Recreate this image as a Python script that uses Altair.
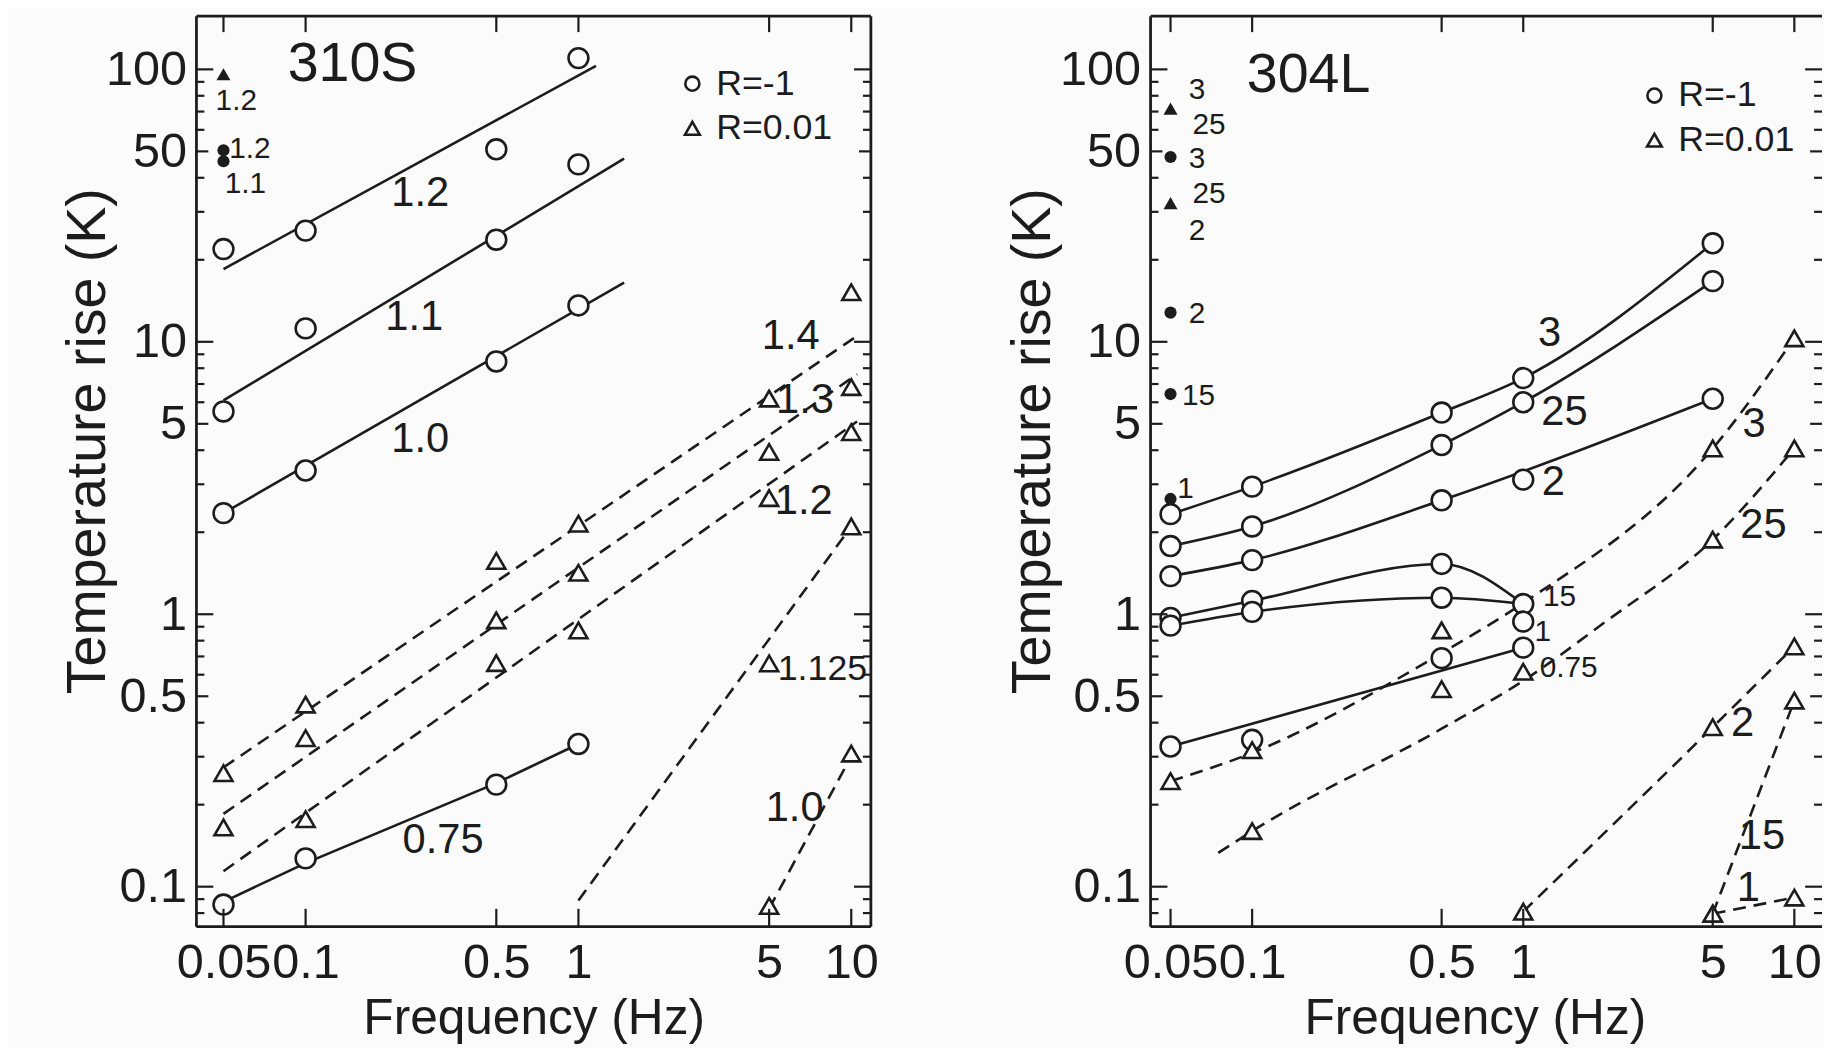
import altair as alt
import pandas as pd

INK = "#1c1c1c"
BG = "#fbfbfb"
FONT = "Liberation Sans"

# ---------------- axis ticks ----------------
X_TICKS = [0.05, 0.1, 0.5, 1, 5, 10]
Y_TICKS = [0.1, 0.5, 1, 5, 10, 50, 100]
Y_MAJOR = [0.1, 1, 10, 100]
Y_MID = [0.5, 5, 50]
Y_MINOR = [0.08, 0.09, 0.2, 0.3, 0.4, 0.6, 0.7, 0.8, 0.9, 2, 3, 4, 6, 7, 8, 9,
           20, 30, 40, 60, 70, 80, 90]
Y_DOMAIN = [0.0713, 156.7]
L_X_DOMAIN = [0.0398, 11.8]
R_X_DOMAIN = [0.0422, 12.65]

# ---------------- 310S : R = -1 (circles, solid lines) ----------------
L_C_FREQ = [0.05, 0.1, 0.5, 1]
L_C12 = [21.9, 25.6, 50.9, 110]
L_C11 = [5.55, 11.2, 23.7, 44.8]
L_C10 = [2.35, 3.37, 8.47, 13.6]
L_C075 = [0.086, 0.127, 0.237, 0.334]

L_S12_F = [0.05, 1.16]
L_S12_T = [18.5, 103]
L_S11_F = [0.05, 1.47]
L_S11_T = [6.1, 47]
L_S10_F = [0.05, 1.47]
L_S10_T = [2.35, 16.5]
L_S075_F = [0.05, 0.1, 0.5, 1]
L_S075_T = [0.088, 0.122, 0.24, 0.334]

# ---------------- 310S : R = 0.01 (triangles, dashed lines) ----------------
L_T_FREQ = [0.05, 0.1, 0.5, 1, 5, 10]
L_T14 = [0.261, 0.466, 1.57, 2.15, 6.19, 15.2]
L_T13 = [0.165, 0.351, 0.95, 1.42, 3.94, 6.82]
L_T12_F = [0.1, 0.5, 1, 5, 10]
L_T12 = [0.177, 0.662, 0.872, 2.67, 4.66]
L_T1125_F = [5, 10]
L_T1125 = [0.66, 2.1]
L_T10_F = [5, 10]
L_T10 = [0.085, 0.308]

L_D14_F = [0.05, 10.5]
L_D14_T = [0.274, 10.5]
L_D13_F = [0.05, 10.5]
L_D13_T = [0.185, 7.6]
L_D12_F = [0.05, 10.5]
L_D12_T = [0.114, 5.1]
L_D1125_F = [1, 10]
L_D1125_T = [0.089, 2.1]
L_D10_F = [5, 10.5]
L_D10_T = [0.083, 0.33]

# filled reference points (310S)
L_FC_F = [0.05, 0.05]
L_FC_T = [50.5, 46]
L_FT_F = [0.05]
L_FT_T = [96]

# curve labels (310S)
L_LAB_TEXT = ["1.2", "1.1", "1.0", "0.75", "1.4", "1.3", "1.2", "1.0"]
L_LAB_F = [0.263, 0.25, 0.263, 0.319, 6.0, 6.77, 6.7, 6.2]
L_LAB_T = [35, 12.3, 4.39, 0.148, 10.5, 6.1, 2.61, 0.195]
L_MLAB_TEXT = ["1.125"]
L_MLAB_F = [7.84]
L_MLAB_T = [0.63]
# small labels beside the filled points (310S)
L_SLAB_TEXT = ["1.2", "1.2", "1.1"]
L_SLAB_F = [0.0557, 0.0625, 0.0602]
L_SLAB_T = [76.7, 50.8, 38]

# ---------------- 304L : R = -1 ----------------
R_C_FREQ5 = [0.05, 0.1, 0.5, 1, 5]
R_C3 = [2.33, 2.94, 5.5, 7.36, 23]
R_C25 = [1.78, 2.1, 4.18, 6.0, 16.7]
R_C2 = [1.38, 1.58, 2.62, 3.12, 6.18]
R_C_FREQ4 = [0.05, 0.1, 0.5, 1]
R_C15 = [0.97, 1.12, 1.53, 1.09]
R_C1 = [0.908, 1.02, 1.15, 0.94]
R_C075 = [0.327, 0.346, 0.69, 0.754]

R_S2_F = [0.05, 0.1, 0.5, 5]
R_S2_T = [1.38, 1.58, 2.62, 6.18]
R_S1_T = [0.908, 1.02, 1.15, 1.09]
R_S075_F = [0.05, 1]
R_S075_T = [0.327, 0.754]

# ---------------- 304L : R = 0.01 ----------------
R_T3_F = [0.05, 0.1, 0.5, 5, 10]
R_T3 = [0.244, 0.317, 0.873, 4.06, 10.3]
R_T25_F = [0.1, 1, 5, 10]
R_T25 = [0.16, 0.615, 1.88, 4.06]
R_TX_F = [0.5]
R_TX = [0.531]
R_T2_F = [1, 5, 10]
R_T2 = [0.081, 0.385, 0.762]
R_T15_F = [5, 10]
R_T15 = [0.0796, 0.482]
R_T1_F = [5, 10]
R_T1 = [0.0796, 0.0912]

R_D3_F = [0.05, 0.1, 0.5, 1, 5, 10]
R_D3_T = [0.244, 0.31, 0.72, 1.1, 4.06, 10.3]
R_D25_F = [0.075, 0.1, 0.5, 1, 2, 5, 10]
R_D25_T = [0.133, 0.16, 0.38, 0.57, 0.935, 1.88, 4.06]

# filled reference points (304L)
R_FC_F = [0.05, 0.05, 0.05, 0.05]
R_FC_T = [47.7, 12.8, 6.43, 2.65]
R_FT_F = [0.05, 0.05]
R_FT_T = [71.8, 32.3]

# curve labels (304L)
R_LAB_TEXT = ["3", "25", "2", "3", "25", "2", "15", "1"]
R_LAB_F = [1.25, 1.42, 1.29, 7.1, 7.69, 6.44, 7.6, 6.77]
R_LAB_T = [10.8, 5.5, 3.06, 4.99, 2.12, 0.397, 0.153, 0.0986]
R_MLAB_TEXT = []
R_MLAB_F = []
R_MLAB_T = []
# small labels (304L): crowded ones near 1 Hz and beside the filled points
R_SLAB_TEXT = ["15", "1", "0.75", "3", "25", "3", "25", "2", "2", "15", "1"]
R_SLAB_F = [1.36, 1.18, 1.47, 0.0626, 0.0693, 0.0626, 0.0693, 0.0626, 0.0626,
            0.0634, 0.0568]
R_SLAB_T = [1.16, 0.86, 0.635, 84, 62.5, 46.8, 34.8, 25.6, 12.6, 6.3, 2.89]


def series_df(items):
    rows = []
    for name, fs, ts in items:
        for i, (f, t) in enumerate(zip(fs, ts)):
            rows.append({"series": name, "f": f, "T": t, "i": i})
    return pd.DataFrame(rows)


ONE = pd.DataFrame({"k": [0]})
LW = 2.6


def make_panel(title, xdom, width, height, circles, triangles, solid, dashed,
               fc, ft, label_groups, interp, ytitle_x, ytitle_y, xtitle_x,
               title_pos, legend_pos, right_frame):
    xs = alt.Scale(type="log", domain=xdom, nice=False)
    ys = alt.Scale(type="log", domain=Y_DOMAIN, nice=False)
    xax = alt.Axis(values=X_TICKS, labelExpr="format(datum.value, '~g')",
                   title="Frequency (Hz)", ticks=False, domain=False, grid=False,
                   labelFlush=False, labelOverlap=False, labelPadding=12,
                   titleFontSize=50,
                   titleX=xtitle_x, titleY=108, titleBaseline="alphabetic",
                   titleAlign="center")
    yax = alt.Axis(values=Y_TICKS, labelExpr="format(datum.value, '~g')",
                   title="Temperature rise (K)", ticks=False, domain=False,
                   grid=False, labelFlush=False, labelOverlap=False,
                   labelPadding=10, titleFontSize=56,
                   titleX=ytitle_x, titleY=ytitle_y,
                   titleAngle=270, titleBaseline="middle", titleAlign="center")
    X = alt.X("f:Q", scale=xs, axis=xax)
    Y = alt.Y("T:Q", scale=ys, axis=yax)

    layers = []
    # solid lines (R=-1)
    layers.append(alt.Chart(series_df(solid)).mark_line(
        color=INK, strokeWidth=LW, interpolate=interp).encode(
        x=X, y=Y, detail="series:N", order="i:Q"))
    # dashed lines (R=0.01)
    layers.append(alt.Chart(series_df(dashed)).mark_line(
        color=INK, strokeWidth=LW, strokeDash=[13, 8], interpolate=interp).encode(
        x=X, y=Y, detail="series:N", order="i:Q"))
    # open circles
    layers.append(alt.Chart(series_df(circles)).mark_point(
        shape="circle", filled=True, fill=BG, stroke=INK, strokeWidth=LW,
        size=400, opacity=1).encode(x=X, y=Y))
    # open triangles
    layers.append(alt.Chart(series_df(triangles)).mark_point(
        shape="triangle-up", filled=True, fill=BG, stroke=INK, strokeWidth=LW,
        size=330, opacity=1).encode(x=X, y=Y))
    # filled points
    layers.append(alt.Chart(series_df([("fc", fc[0], fc[1])])).mark_point(
        shape="circle", filled=True, color=INK, size=150, opacity=1).encode(x=X, y=Y))
    layers.append(alt.Chart(series_df([("ft", ft[0], ft[1])])).mark_point(
        shape="triangle-up", filled=True, color=INK, size=200, opacity=1).encode(x=X, y=Y))
    # curve labels in three text sizes
    for (texts, fs, ts), size in zip(label_groups, (42, 36, 30)):
        if not texts:
            continue
        lab = pd.DataFrame({"label": texts, "f": fs, "T": ts})
        layers.append(alt.Chart(lab).mark_text(
            font=FONT, fontSize=size, color=INK, align="center",
            baseline="middle").encode(x=X, y=Y, text="label:N"))
    # frame
    fr = [(alt.value(0), alt.value(0), alt.value(0), alt.value(height)),
          (alt.value(0), alt.value(width), alt.value(0), alt.value(0)),
          (alt.value(0), alt.value(width), alt.value(height), alt.value(height))]
    if right_frame:
        fr.append((alt.value(width), alt.value(width), alt.value(0), alt.value(height)))
    for x1, x2, y1, y2 in fr:
        layers.append(alt.Chart(ONE).mark_rule(color=INK, strokeWidth=2.8).encode(
            x=x1, x2=x2, y=y1, y2=y2))
    # inward ticks
    for vals, ln in ((Y_MAJOR, 17), (Y_MID, 12), (Y_MINOR, 8)):
        d = pd.DataFrame({"T": vals})
        layers.append(alt.Chart(d).mark_rule(color=INK, strokeWidth=2.2).encode(
            y=Y, x=alt.value(0), x2=alt.value(ln)))
        layers.append(alt.Chart(d).mark_rule(color=INK, strokeWidth=2.2).encode(
            y=Y, x=alt.value(width), x2=alt.value(width - ln)))
    dx = pd.DataFrame({"f": X_TICKS})
    layers.append(alt.Chart(dx).mark_rule(color=INK, strokeWidth=2.2).encode(
        x=X, y=alt.value(height), y2=alt.value(height - 18)))
    layers.append(alt.Chart(dx).mark_rule(color=INK, strokeWidth=2.2).encode(
        x=X, y=alt.value(0), y2=alt.value(16)))
    # panel title
    layers.append(alt.Chart(pd.DataFrame({"t": [title]})).mark_text(
        font=FONT, fontSize=56, color=INK, align="left", baseline="middle").encode(
        x=alt.value(title_pos[0]), y=alt.value(title_pos[1]), text="t:N"))
    # legend
    lx, ly1, ly2 = legend_pos
    layers.append(alt.Chart(pd.DataFrame({"t": ["R=-1"]})).mark_point(
        shape="circle", filled=False, color=INK, strokeWidth=2.6, size=200,
        opacity=1).encode(x=alt.value(lx), y=alt.value(ly1)))
    layers.append(alt.Chart(pd.DataFrame({"t": ["R=0.01"]})).mark_point(
        shape="triangle-up", filled=False, color=INK, strokeWidth=2.6, size=220,
        opacity=1).encode(x=alt.value(lx), y=alt.value(ly2)))
    layers.append(alt.Chart(pd.DataFrame({"t": ["R=-1"]})).mark_text(
        font=FONT, fontSize=36, color=INK, align="left", baseline="middle").encode(
        x=alt.value(lx + 24), y=alt.value(ly1), text="t:N"))
    layers.append(alt.Chart(pd.DataFrame({"t": ["R=0.01"]})).mark_text(
        font=FONT, fontSize=36, color=INK, align="left", baseline="middle").encode(
        x=alt.value(lx + 24), y=alt.value(ly2), text="t:N"))

    return alt.layer(*layers).properties(width=width, height=height)


H = 918

left = make_panel(
    "310S", L_X_DOMAIN, 680, H,
    circles=[("1.2", L_C_FREQ, L_C12), ("1.1", L_C_FREQ, L_C11),
             ("1.0", L_C_FREQ, L_C10), ("0.75", L_C_FREQ, L_C075)],
    triangles=[("1.4", L_T_FREQ, L_T14), ("1.3", L_T_FREQ, L_T13),
               ("1.2", L_T12_F, L_T12), ("1.125", L_T1125_F, L_T1125),
               ("1.0", L_T10_F, L_T10)],
    solid=[("1.2", L_S12_F, L_S12_T), ("1.1", L_S11_F, L_S11_T),
           ("1.0", L_S10_F, L_S10_T), ("0.75", L_S075_F, L_S075_T)],
    dashed=[("1.4", L_D14_F, L_D14_T), ("1.3", L_D13_F, L_D13_T),
            ("1.2", L_D12_F, L_D12_T), ("1.125", L_D1125_F, L_D1125_T),
            ("1.0", L_D10_F, L_D10_T)],
    fc=(L_FC_F, L_FC_T), ft=(L_FT_F, L_FT_T),
    label_groups=[(L_LAB_TEXT, L_LAB_F, L_LAB_T),
                  (L_MLAB_TEXT, L_MLAB_F, L_MLAB_T),
                  (L_SLAB_TEXT, L_SLAB_F, L_SLAB_T)],
    interp="linear",
    ytitle_x=-110, ytitle_y=428, xtitle_x=340,
    title_pos=(92, 48), legend_pos=(500, 68, 113), right_frame=True)

right = make_panel(
    "304L", R_X_DOMAIN, 677, H,
    circles=[("3", R_C_FREQ5, R_C3), ("25", R_C_FREQ5, R_C25),
             ("2", R_C_FREQ5, R_C2), ("15", R_C_FREQ4, R_C15),
             ("1", R_C_FREQ4, R_C1), ("0.75", R_C_FREQ4, R_C075)],
    triangles=[("3", R_T3_F, R_T3), ("25", R_T25_F, R_T25), ("x", R_TX_F, R_TX),
               ("2", R_T2_F, R_T2), ("15", R_T15_F, R_T15), ("1", R_T1_F, R_T1)],
    solid=[("3", R_C_FREQ5, R_C3), ("25", R_C_FREQ5, R_C25),
           ("2", R_S2_F, R_S2_T), ("15", R_C_FREQ4, R_C15),
           ("1", R_C_FREQ4, R_S1_T), ("0.75", R_S075_F, R_S075_T)],
    dashed=[("3", R_D3_F, R_D3_T), ("25", R_D25_F, R_D25_T),
            ("2", R_T2_F, R_T2), ("15", R_T15_F, R_T15), ("1", R_T1_F, R_T1)],
    fc=(R_FC_F, R_FC_T), ft=(R_FT_F, R_FT_T),
    label_groups=[(R_LAB_TEXT, R_LAB_F, R_LAB_T),
                  (R_MLAB_TEXT, R_MLAB_F, R_MLAB_T),
                  (R_SLAB_TEXT, R_SLAB_F, R_SLAB_T)],
    interp="monotone",
    ytitle_x=-119, ytitle_y=428, xtitle_x=327,
    title_pos=(97, 59), legend_pos=(508, 80, 125), right_frame=False)

chart = alt.hconcat(left, right, spacing=127).properties(
    padding={"left": 52, "top": 2, "right": 0, "bottom": 0},
    background=BG,
).configure_view(
    strokeWidth=0, fill=BG
).configure_axis(
    labelFont=FONT, labelFontSize=49, labelColor=INK,
    titleFont=FONT, titleFontWeight="normal", titleColor=INK,
)

chart.save("out.html", embed_options={"renderer": "svg", "actions": False})
